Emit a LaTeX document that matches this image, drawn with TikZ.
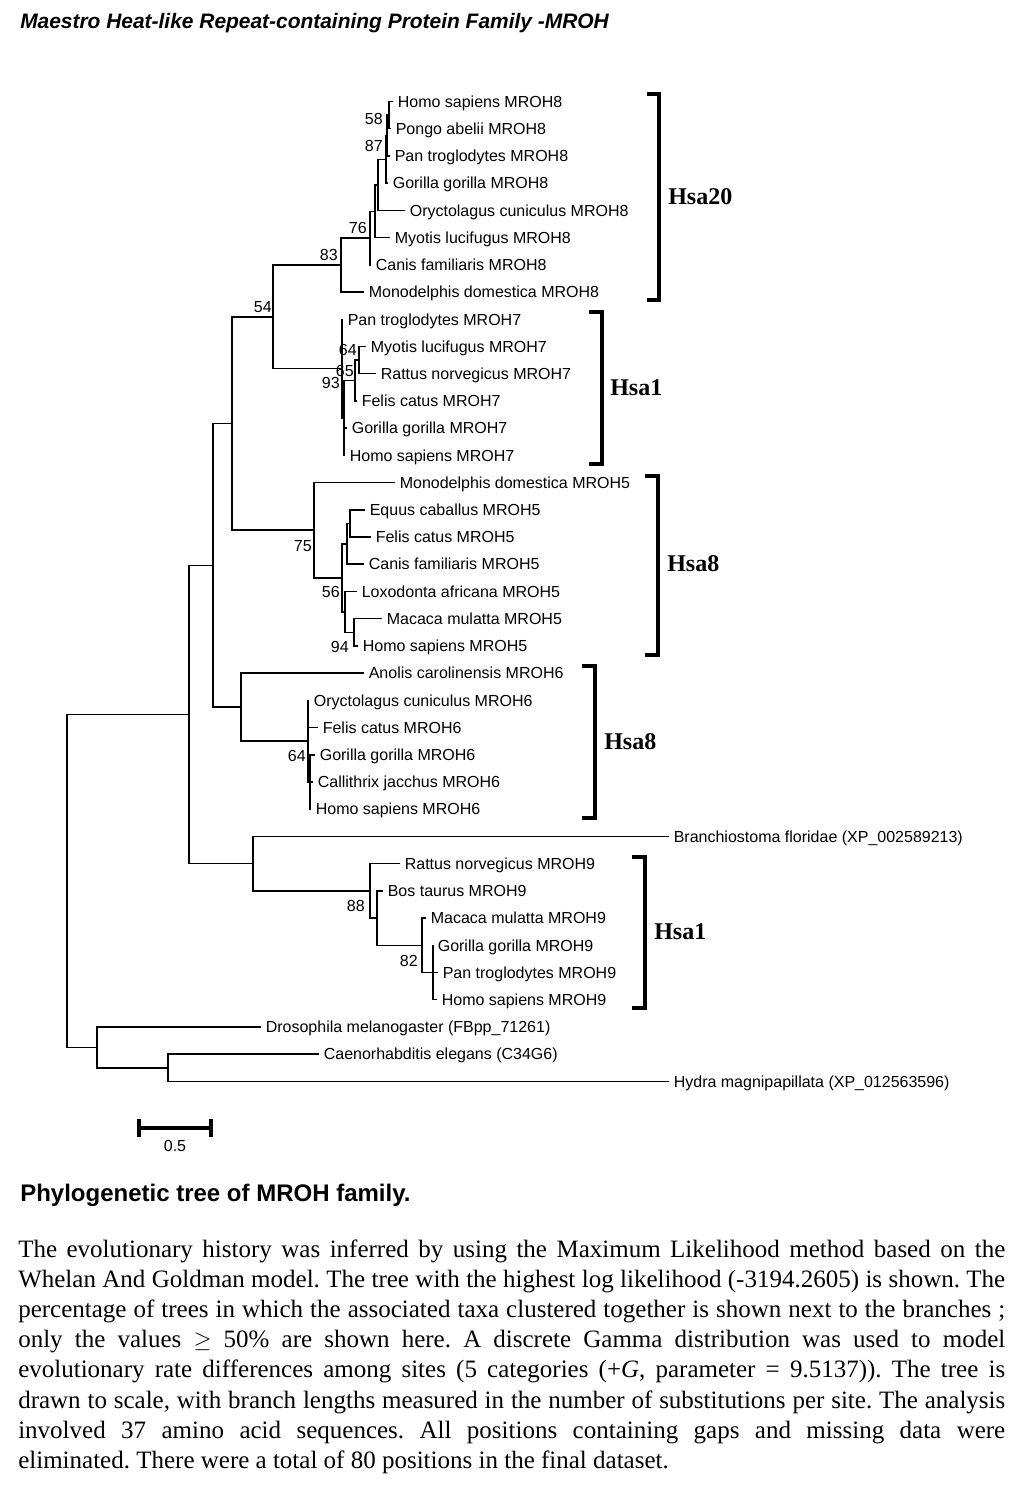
\documentclass[tikz,border=0pt]{standalone}
\usepackage{fontspec}
\setmainfont{Liberation Serif}
\setsansfont{Liberation Sans}
\frenchspacing
\begin{document}
\begin{tikzpicture}[x=0.75pt,y=-0.75pt,
  br/.style={line width=1.1pt, line join=miter},
  leaf/.style={anchor=base west, inner sep=0pt, xshift=3.4pt, yshift=-4.3pt, font=\sffamily\fontsize{12}{14}\selectfont},
  boot/.style={anchor=base east, inner sep=0pt, yshift=-4.3pt, font=\sffamily\fontsize{12}{14}\selectfont},
  clade/.style={anchor=west, inner sep=0pt, font=\rmfamily\bfseries\fontsize{18}{20}\selectfont},
  bracket/.style={line width=3pt, line join=miter},
  para/.style={anchor=base west, inner sep=0pt, font=\rmfamily\fontsize{18.75}{22.5}\selectfont\frenchspacing}]
\fill[white] (0,0) rectangle (1022,1486);
\useasboundingbox (0,0) rectangle (1022,1486);

% title
\node[anchor=base west, inner sep=0pt, font=\sffamily\bfseries\itshape\fontsize{15.7}{18}\selectfont] (title) at (20,28.5) {Maestro Heat-like Repeat-containing Protein Family -MROH};

% leaf ends
\coordinate (L1) at (393,101.5);
\coordinate (L2) at (391,128.7);
\coordinate (L3) at (390,155.9);
\coordinate (L4) at (388,183.2);
\coordinate (L5) at (405,210.4);
\coordinate (L6) at (390,237.6);
\coordinate (L7) at (371,264.8);
\coordinate (L8) at (364,292.0);
\coordinate (L9) at (343,319.3);
\coordinate (L10) at (366,346.5);
\coordinate (L11) at (376,373.7);
\coordinate (L12) at (357,400.9);
\coordinate (L13) at (347,428.1);
\coordinate (L14) at (345,455.4);
\coordinate (L15) at (395,482.6);
\coordinate (L16) at (365,509.8);
\coordinate (L17) at (371,537.0);
\coordinate (L18) at (364,564.2);
\coordinate (L19) at (357,591.5);
\coordinate (L20) at (382,618.7);
\coordinate (L21) at (358,645.9);
\coordinate (L22) at (364,673.1);
\coordinate (L23) at (309,700.3);
\coordinate (L24) at (318,727.5);
\coordinate (L25) at (315,754.8);
\coordinate (L26) at (313,782.0);
\coordinate (L27) at (311,809.2);
\coordinate (L28) at (669,836.4);
\coordinate (L29) at (400,863.6);
\coordinate (L30) at (383,890.9);
\coordinate (L31) at (426,918.1);
\coordinate (L32) at (433,945.3);
\coordinate (L33) at (438,972.5);
\coordinate (L34) at (437,999.7);
\coordinate (L35) at (261,1026.9);
\coordinate (L36) at (319,1054.2);
\coordinate (L37) at (669,1081.4);

% internal nodes
\coordinate (n58) at (389,115.1);
\coordinate (n87) at (387,135.5);
\coordinate (nG8) at (386,159.35);
\coordinate (nO8) at (378,184.9);
\coordinate (nM8) at (375,211.25);
\coordinate (n76) at (370,238.0);
\coordinate (n83) at (341,265.0);
\coordinate (n64a) at (359,360.1);
\coordinate (n65) at (355,380.5);
\coordinate (n93) at (344,417.95);
\coordinate (nH1) at (342,368.6);
\coordinate (n54) at (273,316.8);
\coordinate (nEF) at (350,523.4);
\coordinate (nEFC) at (347,543.8);
\coordinate (n94) at (354,632.3);
\coordinate (n56) at (345,611.9);
\coordinate (n5) at (342,577.85);
\coordinate (n75) at (314,530.2);
\coordinate (n232) at (232,423.5);
\coordinate (n64b) at (310,782.0);
\coordinate (nP6) at (308,741.15);
\coordinate (n241) at (241,707.1);
\coordinate (n213) at (213,565.3);
\coordinate (nG9) at (433,972.5);
\coordinate (n422) at (422,945.3);
\coordinate (n88) at (377,918.1);
\coordinate (n370) at (370,890.85);
\coordinate (n253) at (253,863.6);
\coordinate (n189) at (189,714.45);
\coordinate (n168) at (168,1067.8);
\coordinate (n97) at (97,1047.35);
\coordinate (root) at (67,880.9);

% branches
\foreach \p/\c in {n58/L1,n58/L2,n87/n58,n87/L3,nG8/n87,nG8/L4,nO8/nG8,nO8/L5,
  nM8/nO8,nM8/L6,n76/nM8,n76/L7,n83/n76,n83/L8,
  n64a/L10,n64a/L11,n65/n64a,n65/L12,n93/n65,n93/L13,n93/L14,nH1/L9,nH1/n93,
  n54/n83,n54/nH1,
  nEF/L16,nEF/L17,nEFC/nEF,nEFC/L18,n94/L20,n94/L21,n56/L19,n56/n94,n5/nEFC,n5/n56,
  n75/L15,n75/n5,n232/n54,n232/n75,
  n64b/L25,n64b/L26,n64b/L27,nP6/L23,nP6/L24,nP6/n64b,n241/L22,n241/nP6,
  n213/n232,n213/n241,
  nG9/L32,nG9/L33,nG9/L34,n422/L31,n422/nG9,n88/L30,n88/n422,n370/L29,n370/n88,
  n253/L28,n253/n370,n189/n213,n189/n253,
  n168/L36,n168/L37,n97/L35,n97/n168,root/n189,root/n97}
  \draw[br] (\p) |- (\c);

% leaf labels
\node[leaf] (t1) at (L1) {Homo sapiens MROH8};
\node[leaf] (t2) at (L2) {Pongo abelii MROH8};
\node[leaf] (t3) at (L3) {Pan troglodytes MROH8};
\node[leaf] (t4) at (L4) {Gorilla gorilla MROH8};
\node[leaf] (t5) at (L5) {Oryctolagus cuniculus MROH8};
\node[leaf] (t6) at (L6) {Myotis lucifugus MROH8};
\node[leaf] (t7) at (L7) {Canis familiaris MROH8};
\node[leaf] (t8) at (L8) {Monodelphis domestica MROH8};
\node[leaf] (t9) at (L9) {Pan troglodytes MROH7};
\node[leaf] (t10) at (L10) {Myotis lucifugus MROH7};
\node[leaf] (t11) at (L11) {Rattus norvegicus MROH7};
\node[leaf] (t12) at (L12) {Felis catus MROH7};
\node[leaf] (t13) at (L13) {Gorilla gorilla MROH7};
\node[leaf] (t14) at (L14) {Homo sapiens MROH7};
\node[leaf] (t15) at (L15) {Monodelphis domestica MROH5};
\node[leaf] (t16) at (L16) {Equus caballus MROH5};
\node[leaf] (t17) at (L17) {Felis catus MROH5};
\node[leaf] (t18) at (L18) {Canis familiaris MROH5};
\node[leaf] (t19) at (L19) {Loxodonta africana MROH5};
\node[leaf] (t20) at (L20) {Macaca mulatta MROH5};
\node[leaf] (t21) at (L21) {Homo sapiens MROH5};
\node[leaf] (t22) at (L22) {Anolis carolinensis MROH6};
\node[leaf] (t23) at (L23) {Oryctolagus cuniculus MROH6};
\node[leaf] (t24) at (L24) {Felis catus MROH6};
\node[leaf] (t25) at (L25) {Gorilla gorilla MROH6};
\node[leaf] (t26) at (L26) {Callithrix jacchus MROH6};
\node[leaf] (t27) at (L27) {Homo sapiens MROH6};
\node[leaf] (t28) at (L28) {Branchiostoma floridae (XP\_002589213)};
\node[leaf] (t29) at (L29) {Rattus norvegicus MROH9};
\node[leaf] (t30) at (L30) {Bos taurus MROH9};
\node[leaf] (t31) at (L31) {Macaca mulatta MROH9};
\node[leaf] (t32) at (L32) {Gorilla gorilla MROH9};
\node[leaf] (t33) at (L33) {Pan troglodytes MROH9};
\node[leaf] (t34) at (L34) {Homo sapiens MROH9};
\node[leaf] (t35) at (L35) {Drosophila melanogaster (FBpp\_71261)};
\node[leaf] (t36) at (L36) {Caenorhabditis elegans (C34G6)};
\node[leaf] (t37) at (L37) {Hydra magnipapillata (XP\_012563596)};

% bootstrap values
\node[boot] (b58) at (383,119) {58};
\node[boot] (b87) at (383,145.5) {87};
\node[boot] (b76) at (367,228) {76};
\node[boot] (b83) at (338,255) {83};
\node[boot] (b54) at (272,306.5) {54};
\node[boot] (b64a) at (357,350) {64};
\node[boot] (b65) at (354,371) {65};
\node[boot] (b93) at (340,383) {93};
\node[boot] (b75) at (312,546) {75};
\node[boot] (b56) at (340,592) {56};
\node[boot] (b94) at (349,647) {94};
\node[boot] (b64b) at (306,756) {64};
\node[boot] (b88) at (365,906) {88};
\node[boot] (b82) at (418,961) {82};

% clade brackets
\draw[bracket] (647,94) -- (659,94) -- (659,300) -- (647,300);
\node[clade] (h20) at (668,197) {Hsa20};
\draw[bracket] (589,312) -- (602,312) -- (602,464) -- (589,464);
\node[clade] (h1a) at (610,388) {Hsa1};
\draw[bracket] (645,476) -- (658,476) -- (658,655) -- (645,655);
\node[clade] (h8a) at (667,564) {Hsa8};
\draw[bracket] (582,666) -- (595,666) -- (595,818) -- (582,818);
\node[clade] (h8b) at (604,742) {Hsa8};
\draw[bracket] (632,857) -- (645,857) -- (645,1008) -- (632,1008);
\node[clade] (h1b) at (654,932) {Hsa1};

% scale bar
\coordinate (sa) at (138,1128);
\coordinate (sb) at (212,1128);
\draw[line width=3pt] (sa) -- (sb);
\draw[line width=3pt] ([xshift=1.1pt]sa) ++(0,-9) -- ++(0,18);
\draw[line width=3pt] ([xshift=-1.1pt]sb) ++(0,-9) -- ++(0,18);
\node[inner sep=0pt, font=\sffamily\fontsize{12}{14}\selectfont] (s05) at (175,1146) {0.5};

% caption
\node[anchor=base west, inner sep=0pt, font=\sffamily\bfseries\fontsize{18}{21}\selectfont] (cap) at (20,1201.5) {Phylogenetic tree of MROH family.};

\node[para] (p1) at (18,1257.5) {\makebox[740.25pt][s]{The evolutionary history was inferred by using the Maximum Likelihood method based on the}};
\node[para] (p2) at (18,1287.6) {\makebox[740.25pt][s]{Whelan And Goldman model. The tree with the highest log likelihood (-3194.2605) is shown. The}};
\node[para] (p3) at (18,1317.7) {\makebox[740.25pt][s]{percentage of trees in which the associated taxa clustered together is shown next to the branches ;}};
\node[para] (p4) at (18,1347.8) {\makebox[740.25pt][s]{only the values $\geq$ 50\% are shown here. A discrete Gamma distribution was used to model}};
\node[para] (p5) at (18,1377.9) {\makebox[740.25pt][s]{evolutionary rate differences among sites (5 categories (+\textit{G}, parameter = 9.5137)). The tree is}};
\node[para] (p6) at (18,1408.0) {\makebox[740.25pt][s]{drawn to scale, with branch lengths measured in the number of substitutions per site. The analysis}};
\node[para] (p7) at (18,1438.1) {\makebox[740.25pt][s]{involved 37 amino acid sequences. All positions containing gaps and missing data were}};
\node[para] (p8) at (18,1468.2) {eliminated. There were a total of 80 positions in the final dataset.};
\end{tikzpicture}
\end{document}
